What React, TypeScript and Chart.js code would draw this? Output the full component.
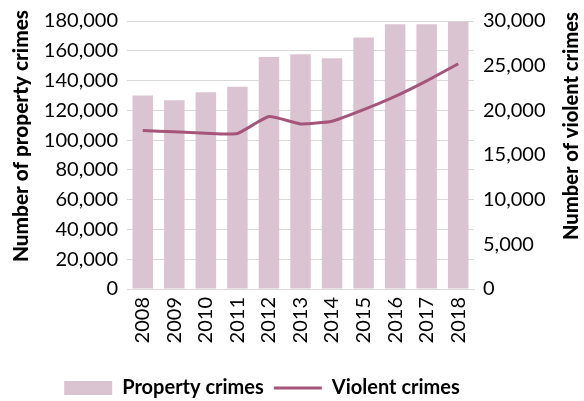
import React, { useEffect, useRef } from 'react';
import { Chart, registerables } from 'chart.js';

Chart.register(...registerables);

const years = ['2008', '2009', '2010', '2011', '2012', '2013', '2014', '2015', '2016', '2017', '2018'];
const propertyCrimes = [130000, 126700, 132200, 135800, 155800, 157600, 154900, 168900, 177800, 177800, 179600];
const violentCrimes = [17740, 17590, 17440, 17410, 19300, 18480, 18780, 20070, 21560, 23300, 25220];

const leftAxisMax = 180000;
const leftAxisStep = 20000;
const rightAxisMax = 30000;
const rightAxisStep = 5000;

const leftTitle = 'Number of property crimes';
const rightTitle = 'Number of violent crimes';
const seriesNames = ['Property crimes', 'Violent crimes'];

const FONT = 'Lato, "Open Sans", sans-serif';
const BAR_COLOR = '#dbc4d2';
const LINE_COLOR = '#a6557a';
const GRID_COLOR = '#d9d9d9';

const W = 584;
const H = 401;

function drawFittedTitle(ctx: any, text: string, cx: number, cy: number, targetLen: number) {
  ctx.save();
  ctx.font = `900 20px ${FONT}`;
  const w = ctx.measureText(text).width || targetLen;
  const size = Math.max(14, Math.min(24, (20 * targetLen) / w));
  ctx.font = `900 ${size.toFixed(2)}px ${FONT}`;
  ctx.fillStyle = '#000';
  ctx.textAlign = 'center';
  ctx.textBaseline = 'middle';
  ctx.translate(cx, cy);
  ctx.rotate(-Math.PI / 2);
  ctx.fillText(text, 0, 0);
  ctx.restore();
}

const axisTitles = {
  id: 'axisTitles',
  afterDraw(chart: any) {
    const ctx = chart.ctx;
    drawFittedTitle(ctx, leftTitle, 21, 136, 252);
    drawFittedTitle(ctx, rightTitle, 572, 126, 228);
  },
};

const legendShift = {
  id: 'legendShift',
  afterLayout(chart: any) {
    const lg = chart.legend;
    if (!lg) return;
    lg.top += 7;
    lg.bottom += 7;
    lg.left -= 30;
    lg.right -= 30;
  },
};

export default function App() {
  const ref = useRef<HTMLCanvasElement | null>(null);

  useEffect(() => {
    if (!ref.current) return;
    const fmt = (v: any) => Number(v).toLocaleString('en-US');
    const tickFont = { family: FONT, size: 20 };
    const chart = new Chart(ref.current, {
      type: 'bar',
      data: {
        labels: years,
        datasets: [
          {
            type: 'bar',
            label: seriesNames[0],
            data: propertyCrimes,
            backgroundColor: BAR_COLOR,
            borderWidth: 0,
            yAxisID: 'y',
            order: 1,
            categoryPercentage: 1,
            barPercentage: 0.65,
            pointStyle: 'rect',
          } as any,
          {
            type: 'line',
            label: seriesNames[1],
            data: violentCrimes,
            borderColor: LINE_COLOR,
            backgroundColor: LINE_COLOR,
            borderWidth: 3,
            pointRadius: 0,
            pointStyle: 'line',
            tension: 0.15,
            yAxisID: 'y1',
            order: 0,
          } as any,
        ],
      },
      options: {
        responsive: false,
        animation: false,
        layout: { padding: { top: 19, left: 0, right: 0, bottom: 0 } },
        plugins: {
          legend: {
            position: 'bottom',
            labels: {
              usePointStyle: true,
              pointStyleWidth: 48,
              boxHeight: 14,
              padding: 10,
              color: '#000',
              font: { family: FONT, size: 20, weight: 'bold' },
              sort: (a: any, b: any) => a.datasetIndex - b.datasetIndex,
            },
          },
          tooltip: { enabled: false },
        },
        scales: {
          x: {
            grid: { display: false, drawTicks: false },
            border: { display: true, color: GRID_COLOR, width: 1 },
            ticks: {
              minRotation: 90,
              maxRotation: 90,
              padding: 8,
              color: '#000',
              font: tickFont,
            },
            afterFit(scale: any) {
              scale.height = H - 289 - 40;
            },
          },
          y: {
            position: 'left',
            min: 0,
            max: leftAxisMax,
            grid: { color: GRID_COLOR, drawTicks: false },
            border: { display: false },
            ticks: {
              stepSize: leftAxisStep,
              padding: 9,
              color: '#000',
              font: tickFont,
              callback: fmt,
            },
            afterFit(scale: any) {
              scale.width = 127;
            },
          },
          y1: {
            position: 'right',
            min: 0,
            max: rightAxisMax,
            grid: { display: false, drawTicks: false },
            border: { display: false },
            ticks: {
              stepSize: rightAxisStep,
              padding: 9,
              color: '#000',
              font: tickFont,
              callback: fmt,
            },
            afterFit(scale: any) {
              scale.width = W - 474;
            },
          },
        },
      },
      plugins: [axisTitles, legendShift],
    });
    return () => chart.destroy();
  }, []);

  return (
    <div style={{ position: 'fixed', left: 0, top: 0, width: W, height: H, background: '#fff' }}>
      <canvas ref={ref} width={W} height={H} style={{ display: 'block' }} />
    </div>
  );
}
